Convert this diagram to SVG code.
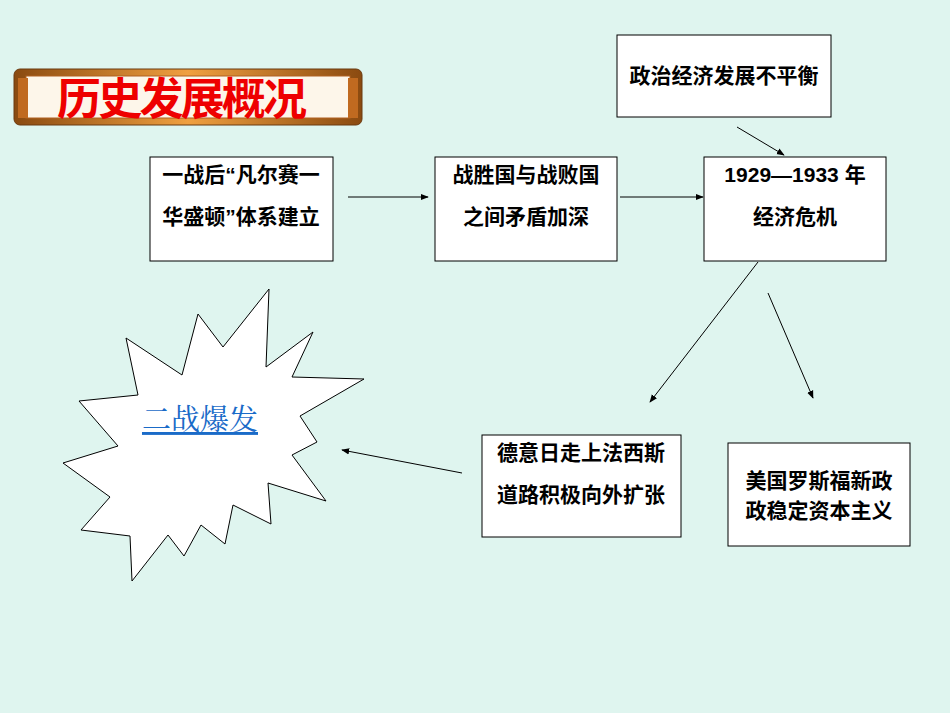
<svg xmlns="http://www.w3.org/2000/svg" width="950" height="713" viewBox="0 0 950 713">
<defs>
<style>
.box{fill:#fff;stroke:#000;stroke-width:1}
.t{font-family:"Liberation Sans","Noto Sans CJK SC",sans-serif;font-size:21px;font-weight:bold;fill:#000;text-anchor:middle}
.c{stroke:#000;stroke-width:1;fill:none;marker-end:url(#a)}
</style>
<marker id="a" viewBox="0 0 10 10" refX="9" refY="5" markerWidth="8" markerHeight="8" orient="auto"><path d="M0,1L10,5L0,9z" fill="#000"/></marker>
<linearGradient id="g" x1="0" y1="0" x2="1" y2="0"><stop offset="0" stop-color="#8a4a10"/><stop offset="0.5" stop-color="#f0a040"/><stop offset="1" stop-color="#8a4a10"/></linearGradient>
</defs>
<rect width="950" height="713" fill="#dff5ef"/>
<g id="title">
<rect x="14" y="69" width="348" height="56" rx="6" fill="url(#g)" stroke="#6b3a10"/>
<rect x="26" y="76" width="324" height="42" fill="#fdf6ea" stroke="#b06020"/>
<rect x="18" y="78" width="10" height="40" fill="#c06a20"/>
<rect x="348" y="78" width="10" height="40" fill="#c06a20"/>
<text x="182" y="115" font-family="'Liberation Sans','Noto Sans CJK SC',sans-serif" font-size="44" font-weight="bold" fill="#ee0000" text-anchor="middle" textLength="250">历史发展概况</text>
</g>
<g id="n1"><rect class="box" x="150" y="157" width="183" height="104"/><text class="t" x="241" y="182">一战后“凡尔赛一</text><text class="t" x="241" y="224">华盛顿”体系建立</text></g>
<g id="n2"><rect class="box" x="435" y="157" width="182" height="104"/><text class="t" x="526" y="182">战胜国与战败国</text><text class="t" x="526" y="224">之间矛盾加深</text></g>
<g id="n3"><rect class="box" x="704" y="157" width="182" height="104"/><text class="t" x="795" y="182">1929—1933 年</text><text class="t" x="795" y="224">经济危机</text></g>
<g id="n4"><rect class="box" x="617" y="35" width="214" height="82"/><text class="t" x="724" y="83">政治经济发展不平衡</text></g>
<g id="n5"><rect class="box" x="482" y="435" width="199" height="102"/><text class="t" x="581" y="460">德意日走上法西斯</text><text class="t" x="581" y="502">道路积极向外扩张</text></g>
<g id="n6"><rect class="box" x="728" y="443" width="182" height="103"/><text class="t" x="819" y="488">美国罗斯福新政</text><text class="t" x="819" y="518">政稳定资本主义</text></g>
<g id="n7"><path d="M269,289L266,367L313,332L292,377L364,379L300,416L317,442L292,455L326,501L268,483L271,524L233,505L225,544L201,525L184,556L168,535L132,581L130,536L81,530L110,497L63,463L118,446L79,401L138,395L126,338L182,375L198,314L223,347Z" fill="#fff" stroke="#000"/>
<text x="200" y="430" font-family="'Noto Serif CJK SC','Noto Sans CJK SC',serif" font-size="29" fill="#1a6bc8" text-anchor="middle" text-decoration="underline">二战爆发</text></g>
<g id="connectors">
<line class="c" x1="348" y1="197" x2="428" y2="197"/>
<line class="c" x1="620" y1="197" x2="703" y2="197"/>
<line class="c" x1="737" y1="127" x2="784" y2="155"/>
<line class="c" x1="758" y1="262" x2="650" y2="402"/>
<line class="c" x1="768" y1="293" x2="813" y2="398"/>
<line class="c" x1="462" y1="473" x2="342" y2="450"/>
</g>
</svg>
